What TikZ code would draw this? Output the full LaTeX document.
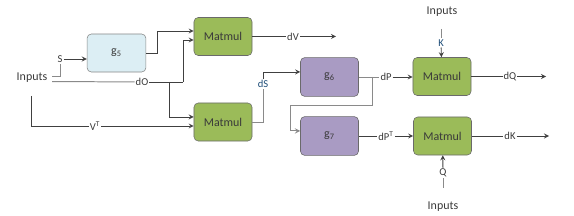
\documentclass[tikz,border=0pt]{standalone}
\usepackage{fontspec}
\setmainfont{Carlito}
\usetikzlibrary{arrows}
\definecolor{matgreen}{HTML}{9BBB59}
\definecolor{gpurple}{HTML}{A99BC3}
\definecolor{gblue}{HTML}{DCEEF4}
\definecolor{edge}{HTML}{6A6A6A}
\definecolor{wiredark}{HTML}{404040}
\definecolor{wiregray}{HTML}{8A8A8A}
\definecolor{txt}{HTML}{3A3A3A}
\definecolor{dsblue}{HTML}{1F4E79}
\begin{document}
\begin{tikzpicture}[
        x=0.025cm, y=-0.025cm,
        font=\fontsize{8.5}{10}\selectfont, text=txt,
        matmul/.style={rectangle, draw=edge, fill=matgreen, thin, minimum width=1.45cm, minimum height=0.95cm, text centered, rounded corners=3pt},
        gbox/.style={rectangle, draw=edge, fill=gpurple, thin, minimum width=1.45cm, minimum height=0.97cm, text centered, rounded corners=3pt},
        sbox/.style={rectangle, draw=edge!80, fill=gblue, thin, minimum width=1.47cm, minimum height=0.95cm, text centered, rounded corners=3pt},
        lbl/.style={fill=white, inner sep=0.6pt, font=\fontsize{7.5}{8}\selectfont},
        wire/.style={draw=wiredark, line width=0.6pt, >=stealth},
        wireg/.style={draw=wiregray, line width=0.7pt, >=stealth}
    ]
        \useasboundingbox (0,0) rectangle (574,216);

        % Nodes
        \node (inL) at (32,78) {Inputs};
        \node (inT) at (442,12) {Inputs};
        \node (inB) at (443,207) {Inputs};

        \node (g5) at (116.5,53) [sbox] {g\textsubscript{5}};
        \node (mmA) at (223,36.5) [matmul] {Matmul};
        \node (mmB) at (223,122) [matmul] {Matmul};
        \node (g6) at (329.5,77) [gbox] {g\textsubscript{6}};
        \node (g7) at (329.5,136) [gbox] {g\textsubscript{7}};
        \node (mmQ) at (442,76.5) [matmul] {Matmul};
        \node (mmK) at (442.5,136) [matmul] {Matmul};

        % Labels on the wires
        \node (s) at (60,59) [lbl] {S};
        \node (dO) at (142,82) [lbl] {dO};
        \node (vt) at (95,126) [lbl] {V\textsuperscript{T}};
        \node (dV) at (293,36.5) [lbl] {dV};
        \node (dS) at (263,84) [lbl, text=dsblue] {dS};
        \node (dP) at (386,77) [lbl] {dP};
        \node (dPT) at (386,136) [lbl] {dP\textsuperscript{T}};
        \node (dQ) at (510,76.5) [lbl] {dQ};
        \node (dK) at (510,136) [lbl] {dK};
        \node (K) at (441,43) [lbl, text=dsblue] {K};
        \node (Q) at (443,173) [lbl] {Q};

        % Free ends and branch points
        \coordinate (jO) at (169,82);
        \coordinate (kO) at (183,82);
        \coordinate (vs) at (31,96);
        \coordinate (jP) at (372,77);
        \coordinate (lP) at (290,105);
        \coordinate (eV) at (336,36.5);
        \coordinate (eQ) at (546,76.5);
        \coordinate (eK) at (549,136);
        \coordinate (kTop) at (441,29);
        \coordinate (qBot) at (443,188);

        % Arrows
        \draw[wireg] ([yshift=0.8pt]inL.east) -| (s);
        \draw[wire, ->] (s) -- (s -| g5.west);
        \draw[wireg] ([yshift=-2.5pt]inL.east) -- (dO);
        \draw[wire] (dO) -- (kO);
        \draw[wire, ->] (kO) |- ([yshift=-2.5pt]mmA.west);
        \draw[wire, ->] (jO) |- ([yshift=3.6pt]mmB.west);
        \draw[wire] (vs) |- (vt);
        \draw[wire, ->] (vt) -- (vt -| mmB.west);
        \draw[wire, ->] (g5.east) -- ++(11,0) |- ([yshift=3.9pt]mmA.west);

        \draw[wire] (mmA.east) -- (dV);
        \draw[wire, ->] (dV) -- (eV);
        \draw[wireg] (mmB.east) -| (dS);
        \draw[wire, ->] (dS) |- ([yshift=3.6pt]g6.west);

        \draw[wireg] (g6.east) -- (dP);
        \draw[wire, ->] (dP) -- (dP -| mmQ.west);
        \draw[wireg, ->] (jP) |- (lP) |- ([yshift=3.6pt]g7.west);
        \draw[wire] (g7.east) -- (dPT);
        \draw[wire, ->] (dPT) -- (dPT -| mmK.west);

        \draw[wire] (mmQ.east) -- (dQ);
        \draw[wire, ->] (dQ) -- (eQ);
        \draw[wire] (mmK.east) -- (dK);
        \draw[wire, ->] (dK) -- (eK);

        \draw[wireg] (kTop) -- (K);
        \draw[wire, ->] (K) -- (mmQ);
        \draw[wireg] (qBot) -- (Q);
        \draw[wire, ->] (Q) -- (mmK);

    \end{tikzpicture}
\end{document}
